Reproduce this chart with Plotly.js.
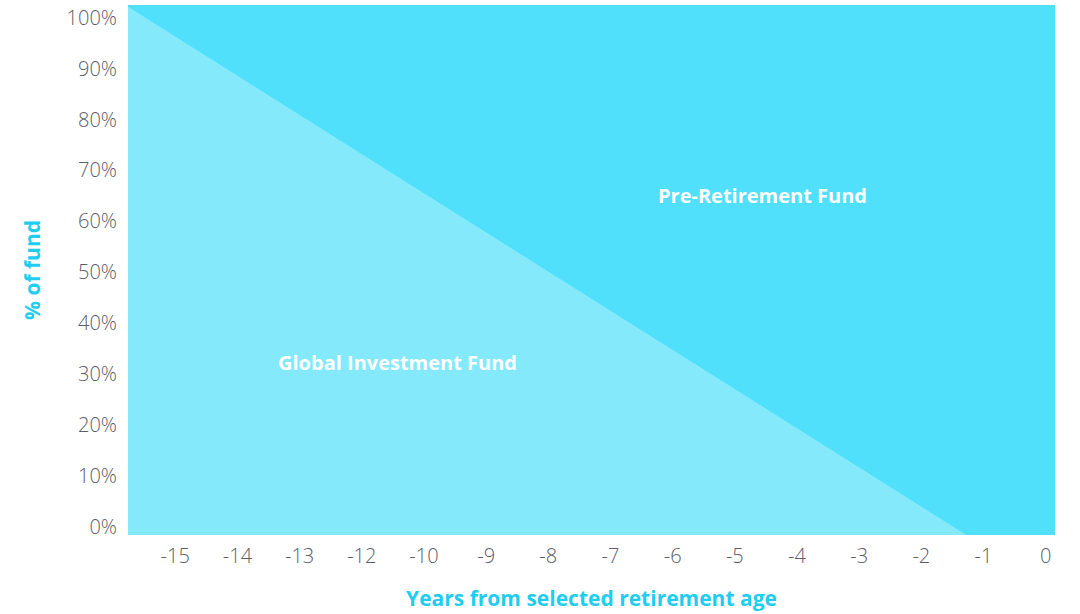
<!DOCTYPE html>
<html>
<head>
<meta charset="utf-8">
<script src="https://cdn.plot.ly/plotly-3.0.1.min.js"></script>
<style>html,body{margin:0;padding:0;background:#fff;}#chart{width:1080px;height:614px;}</style>
</head>
<body>
<div id="chart"></div>
<script>
// Tick labels as printed on the reference (note: no "-11")
const xTickLabels = ['-15','-14','-13','-12','-10','-9','-8','-7','-6','-5','-4','-3','-2','-1','0'];
const yTickValues = [0,10,20,30,40,50,60,70,80,90,100];
const yTickLabels = ['0%','10%','20%','30%','40%','50%','60%','70%','80%','90%','100%'];

// Global Investment Fund share along the glide path (x in tick-slot units)
const glideX = [-0.76, 12.73, 14.15];
const globalShare = [102.2, -1.6, -1.6];

const seriesNames = ['Global Investment Fund', 'Pre-Retirement Fund'];

const xRange = [-0.76, 14.15];
const yRange = [-1.6, 102.5];

const darkCyan = '#50e0fb';
const lightCyan = '#84e9fb';
const titleCyan = '#1fcdf0';

const floorTrace = {
  x: glideX, y: glideX.map(() => yRange[0]),
  mode: 'lines', line: {width: 0}, hoverinfo: 'skip', showlegend: false
};
const globalTrace = {
  x: glideX, y: globalShare, name: seriesNames[0],
  mode: 'lines', line: {width: 0, color: lightCyan},
  fill: 'tonexty', fillcolor: lightCyan, showlegend: false
};
const preTrace = {
  x: glideX, y: glideX.map(() => yRange[1]), name: seriesNames[1],
  mode: 'lines', line: {width: 0, color: darkCyan},
  fill: 'tonexty', fillcolor: darkCyan, showlegend: false
};

const tickFont = {family: 'Open Sans', size: 20, color: '#5d5d6b', weight: 300};
const titleFont = {family: 'Open Sans', size: 21, color: titleCyan, weight: 700};
const labelFont = {family: 'Open Sans', size: 20, color: '#ffffff', weight: 700};

const layout = {
  width: 1080, height: 614,
  margin: {l: 128, r: 25, t: 5, b: 79},
  paper_bgcolor: '#ffffff', plot_bgcolor: darkCyan,
  showlegend: false,
  xaxis: {
    range: xRange, tickmode: 'array',
    tickvals: xTickLabels.map((_, i) => i), ticktext: xTickLabels,
    showgrid: false, zeroline: false, showline: false, ticks: '',
    tickfont: tickFont, ticklabelstandoff: 7,
    title: {text: 'Years from selected retirement age', standoff: 23, font: titleFont}
  },
  yaxis: {
    range: yRange, tickmode: 'array',
    tickvals: yTickValues, ticktext: yTickLabels,
    showgrid: false, zeroline: false, showline: false, ticks: '',
    tickfont: tickFont, ticklabelstandoff: 10,
    title: {text: '% of fund', standoff: 20, font: titleFont}
  },
  annotations: [
    {x: 0.685, y: 0.640, xref: 'paper', yref: 'paper', xanchor: 'center', yanchor: 'middle',
      text: seriesNames[1], showarrow: false, font: labelFont},
    {x: 0.291, y: 0.326, xref: 'paper', yref: 'paper', xanchor: 'center', yanchor: 'middle',
      text: seriesNames[0], showarrow: false, font: labelFont}
  ]
};

Plotly.newPlot('chart', [floorTrace, globalTrace, preTrace], layout, {displayModeBar: false, staticPlot: true});
</script>
</body>
</html>
